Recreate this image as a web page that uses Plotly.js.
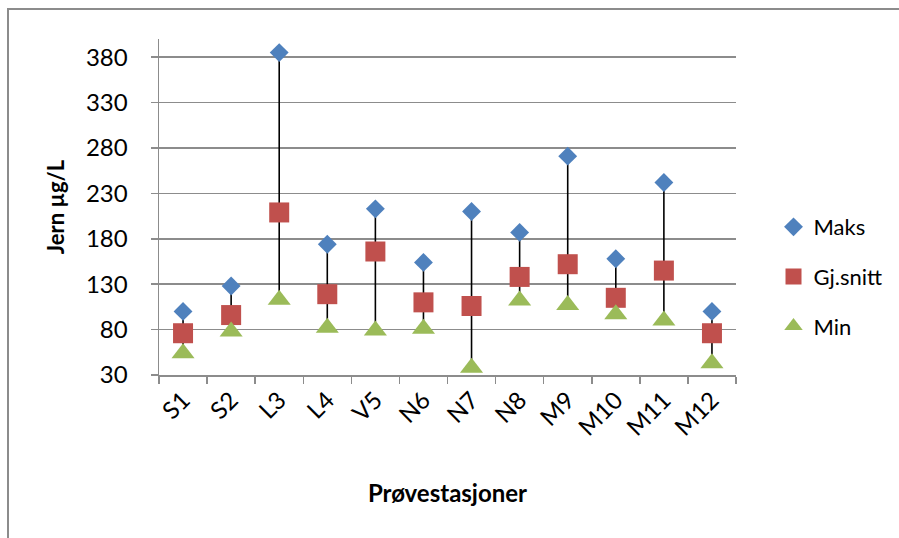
<!DOCTYPE html>
<html>
<head>
<meta charset="utf-8">
<script src="https://cdn.plot.ly/plotly-3.0.1.min.js"></script>
<style>
  html, body { margin: 0; padding: 0; background: #fff; overflow: hidden; }
  #frame { position: absolute; left: 7px; top: 8px; width: 1000px; height: 600px; border: 2px solid #8c8c8c; box-sizing: border-box; }
  #chart { position: absolute; left: 0; top: 0; width: 899px; height: 538px; }
</style>
</head>
<body>
<div id="frame"></div>
<div id="chart"></div>
<script>
const stations = ["S1","S2","L3","L4","V5","N6","N7","N8","M9","M10","M11","M12"];
const maks   = [100, 128, 385, 174, 213, 154, 210, 187, 271, 158, 242, 100];
const snitt  = [76, 96, 209, 119, 166, 110, 106, 138, 152, 115, 145, 76];
const minv   = [54, 78, 113, 82, 79, 81, 38, 112, 107, 97, 90, 43];

const font = "Lato, 'Open Sans', sans-serif";

// high-low lines built from min/max
const hlX = [], hlY = [];
stations.forEach((s, i) => { hlX.push(s, s, null); hlY.push(minv[i], maks[i], null); });

const traces = [
  { x: hlX, y: hlY, type: "scatter", mode: "lines", line: { color: "#000", width: 1.6 },
    showlegend: false, hoverinfo: "skip", cliponaxis: false },
  { x: stations, y: maks, name: "Maks", type: "scatter", mode: "markers", legendgroup: "a",
    marker: { symbol: "diamond", size: 14.5, color: "#4F81BD" }, cliponaxis: false },
  { x: stations, y: snitt, name: "Gj.snitt", type: "scatter", mode: "markers", legendgroup: "b",
    marker: { symbol: "square", size: 20, color: "#C0504D" }, cliponaxis: false },
  { x: stations, y: minv, name: "Min", type: "scatter", mode: "markers", legendgroup: "c",
    marker: { symbol: "triangle-up", size: 20, color: "#9BBB59" }, cliponaxis: false }
];

const layout = {
  width: 899, height: 538,
  margin: { l: 159, r: 157, t: 39, b: 163 },
  paper_bgcolor: "rgba(0,0,0,0)", plot_bgcolor: "rgba(0,0,0,0)",
  font: { family: font, size: 22, color: "#000" },
  showlegend: true,
  legend: { x: 1.065, y: 0.293, xanchor: "left", yanchor: "middle",
            font: { family: font, size: 22 }, tracegroupgap: 18, itemwidth: 30,
            bgcolor: "rgba(0,0,0,0)" },
  xaxis: {
    type: "category", categoryorder: "array", categoryarray: stations,
    range: [-0.5, 11.5],
    showline: true, linecolor: "#8c8c8c", linewidth: 1.5,
    ticks: "outside", tickson: "boundaries", ticklen: 7, tickcolor: "#8c8c8c", tickwidth: 1.5,
    showgrid: false, tickangle: -45,
    tickfont: { family: font, size: 24 },
    title: { text: "<b>Prøvestasjoner</b>", font: { family: font, size: 24 }, standoff: 45 }
  },
  yaxis: {
    range: [30, 400], tick0: 30, dtick: 50,
    showline: true, linecolor: "#8c8c8c", linewidth: 1.5,
    ticks: "outside", ticklen: 7, tickcolor: "#8c8c8c", tickwidth: 1.5,
    showgrid: true, gridcolor: "#8c8c8c", gridwidth: 1.5, zeroline: false,
    tickfont: { family: font, size: 24 },
    ticklabelstandoff: 18,
    title: { text: "<b>Jern µg/L</b>", font: { family: font, size: 22 }, standoff: 15 }
  }
};

Plotly.newPlot("chart", traces, layout, { staticPlot: true, displayModeBar: false });
</script>
</body>
</html>
